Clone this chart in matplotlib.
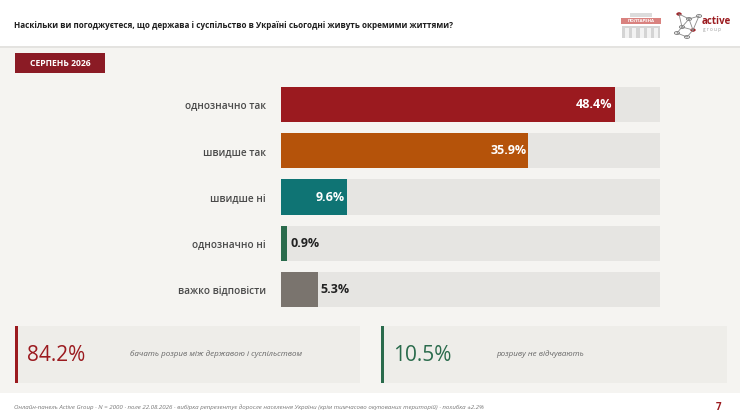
import matplotlib
matplotlib.use("Agg")
import matplotlib.pyplot as plt
from matplotlib.patches import Rectangle, Circle

plt.rcParams["font.family"] = ["Open Sans", "DejaVu Sans"]

W, H = 740, 419

# --- data -------------------------------------------------------------
categories = ["однозначно так", "швидше так", "швидше ні", "однозначно ні", "важко відповісти"]
values = [48.4, 35.9, 9.6, 0.9, 5.3]
bar_colors = ["#9b1a1f", "#b5530a", "#0f7474", "#2a6b4c", "#7a746e"]
track_max = 55

title = "Наскільки ви погоджуєтеся, що держава і суспільство в Україні сьогодні живуть окремими життями?"
badge = "СЕРПЕНЬ 2026"
summary_values = ["84.2%", "10.5%"]
summary_texts = ["бачать розрив між державою і суспільством", "розриву не відчувають"]
summary_colors = ["#9b1a1f", "#2a6b4c"]
footer = ("Онлайн-панель Active Group · N = 2000 · поле 22.08.2026 · вибірка репрезентує доросле "
          "населення України (крім тимчасово окупованих територій) · похибка ±2.2%")
page_no = "7"


def fx(px):
    return px / W


def fy(py):
    return 1 - py / H


def rect(x0, y0, x1, y1, color, **kw):
    # rectangle in pixel coords (top-left origin)
    fig.patches.append(Rectangle((fx(x0), fy(y1)), fx(x1) - fx(x0), fy(y0) - fy(y1),
                                 transform=fig.transFigure, color=color, lw=0, **kw))


fig = plt.figure(figsize=(W / 100, H / 100), dpi=100)
fig.patch.set_facecolor("white")

# page background bands
rect(0, 47, W, 393, "#f5f4f1")
rect(0, 46, W, 48, "#e4e3e0")

# header
fig.text(fx(14), fy(26), title, fontsize=5.9, fontweight="bold", color="#1e1e1e", va="center")

# logo 1: building
rect(621, 18, 661, 24, "#d9827f")
fig.text(fx(641), fy(21), "ПОЛТАРЕНА", fontsize=3.2, color="white", ha="center", va="center",
         fontweight="bold")
rect(622, 26, 660, 38, "#d4d4d4")
for i in range(5):
    rect(625 + i * 7.3, 28, 629 + i * 7.3, 38, "#f2f2f2")
rect(630, 13, 652, 17, "#dcdcdc")

# logo 2: network
nodes = [(679, 14), (689, 19), (699, 16), (682, 27), (693, 30), (687, 37), (677, 33)]
edges = [(0, 1), (1, 2), (1, 3), (2, 4), (3, 4), (3, 6), (4, 5), (5, 6), (1, 4), (0, 3)]
for a, b in edges:
    fig.lines.append(plt.Line2D([fx(nodes[a][0]), fx(nodes[b][0])],
                                [fy(nodes[a][1]), fy(nodes[b][1])],
                                transform=fig.transFigure, color="#8a8a8a", lw=0.6))
for i, (nx, ny) in enumerate(nodes):
    red = i in (0, 4)
    fig.patches.append(Circle((fx(nx), fy(ny)), 2.2 / W if red else 2.6 / W,
                              transform=fig.transFigure,
                              facecolor="#9b1a1f" if red else "white",
                              edgecolor="#9b1a1f" if red else "#777777", lw=0.6))
fig.text(fx(702), fy(21), "active", fontsize=7, fontweight="bold", color="#9b1a1f", va="center")
fig.text(fx(703), fy(30), "g r o u p", fontsize=3.3, color="#999999", va="center")

# badge
rect(15, 53, 105, 73, "#8b1b25")
fig.text(fx(60), fy(63), badge, fontsize=6.2, fontweight="bold", color="white",
         ha="center", va="center")

# --- bars ---------------------------------------------------------------
top_c, pitch = 104.5, 46.25
ax = fig.add_axes([fx(281), fy(top_c + 4.5 * pitch), fx(660) - fx(281), 5 * pitch / H])
ax.set_zorder(5)
ax.set_facecolor("none")
ypos = list(range(len(categories)))
ax.barh(ypos, [track_max] * len(categories), height=0.76, color="#e6e5e2", lw=0)
ax.barh(ypos, values, height=0.76, color=bar_colors, lw=0)
ax.set_xlim(0, track_max)
ax.set_ylim(len(categories) - 0.5, -0.5)
ax.set_yticks(ypos)
ax.set_yticklabels(categories, fontsize=7.2, color="#4a4a4a", fontweight="semibold")
ax.tick_params(axis="y", length=0, pad=10.8)
ax.set_xticks([])
for s in ax.spines.values():
    s.set_visible(False)

for y, v in zip(ypos, values):
    label = f"{v}%"
    if v >= 9:
        ax.text(v - 0.3, y, label, ha="right", va="center", fontsize=9, fontweight="bold",
                color="white")
    else:
        ax.text(v + 0.45, y, label, ha="left", va="center", fontsize=9, fontweight="bold",
                color="#222222")

# --- summary boxes --------------------------------------------------------
boxes = [(15, 360), (381, 727)]
for (x0, x1), big, txt, col in zip(boxes, summary_values, summary_texts, summary_colors):
    rect(x0, 326, x1, 383, "#eeede9")
    rect(x0, 326, x0 + 3, 383, col)
    fig.text(fx(x0 + 12), fy(355), big, fontsize=15, color=col, va="center")
    fig.text(fx(x0 + 115), fy(354), txt, fontsize=5.8, color="#666666", va="center",
             style="italic")

# footer
fig.text(fx(14), fy(407), footer, fontsize=4.4, color="#777777", va="center", style="italic")
fig.text(fx(719), fy(407), page_no, fontsize=7, color="#9b1a1f", va="center", ha="center",
         fontweight="bold")

fig.savefig("out.png", dpi=100, facecolor=fig.get_facecolor())
